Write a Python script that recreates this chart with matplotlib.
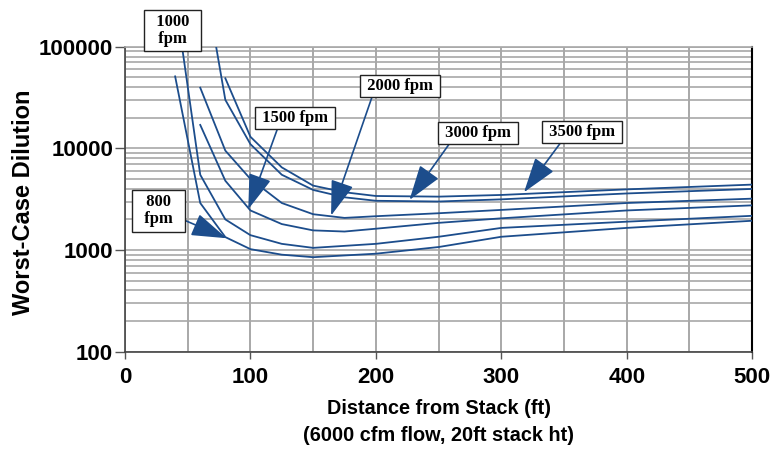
import numpy as np
import matplotlib
matplotlib.use("Agg")
import matplotlib.pyplot as plt
from matplotlib.ticker import MultipleLocator, LogLocator, FixedLocator, NullFormatter

# curve data (distance ft, worst-case dilution)
x_800 = [40, 60, 80, 100, 125, 150, 200, 250, 300, 400, 500]
d_800 = [51000, 2900, 1340, 1020, 900, 850, 920, 1070, 1350, 1650, 1940]

x_1000 = [40, 60, 80, 100, 125, 150, 200, 250, 300, 400, 500]
d_1000 = [300000, 5500, 2000, 1400, 1150, 1050, 1150, 1350, 1650, 1900, 2170]

x_1500 = [60, 80, 100, 125, 150, 175, 200, 250, 300, 400, 500]
d_1500 = [17000, 4800, 2450, 1800, 1560, 1520, 1620, 1850, 2050, 2450, 2750]

x_2000 = [60, 80, 100, 125, 150, 175, 200, 250, 300, 400, 500]
d_2000 = [39500, 9500, 5000, 2900, 2250, 2070, 2150, 2300, 2480, 2900, 3200]

x_3000 = [60, 80, 100, 125, 150, 175, 200, 250, 300, 400, 500]
d_3000 = [800000, 30000, 11000, 5500, 3900, 3300, 3050, 3000, 3150, 3600, 3990]

x_3500 = [80, 100, 125, 150, 175, 200, 250, 300, 400, 500]
d_3500 = [48900, 13000, 6500, 4300, 3700, 3400, 3350, 3480, 3950, 4400]

labels = ["800\nfpm", "1000\nfpm", "1500 fpm", "2000 fpm", "3000 fpm", "3500 fpm"]
xticks = [0, 100, 200, 300, 400, 500]
yticks = [100, 1000, 10000, 100000]

# label boxes and arrow tips (layout)
box_pos = [(26.8, 2430), (37.9, 144000), (135.2, 20100), (219.3, 40900), (281.5, 14200), (364.3, 14500)]
tips = [(81, 1306), None, (98.3, 2520), (164.3, 2180), (226.8, 3110), (318.1, 3700)]
rel = [(1, 0.26), None, (0.285, 0), (0.134, 0), (0.14, 0), (0.24, 0)]

navy = "#1c4d8c"
grid_c = "#a8a8a8"

fig = plt.figure(figsize=(7.84, 4.51), dpi=100)
ax = fig.add_axes([0.1594, 0.2202, 0.8, 0.6763])

for xs, ds in [(x_800, d_800), (x_1000, d_1000), (x_1500, d_1500),
               (x_2000, d_2000), (x_3000, d_3000), (x_3500, d_3500)]:
    ax.plot(xs, ds, color=navy, lw=1.3, zorder=3)

ax.set_yscale("log")
ax.set_xlim(0, 500)
ax.set_ylim(100, 100000)

ax.xaxis.set_major_locator(FixedLocator(xticks))
ax.xaxis.set_minor_locator(MultipleLocator(50))
ax.yaxis.set_major_locator(FixedLocator(yticks))
ax.yaxis.set_minor_locator(LogLocator(base=10, subs=np.arange(2, 10)))
ax.yaxis.set_minor_formatter(NullFormatter())
ax.set_yticklabels([str(v) for v in yticks])
ax.set_xticklabels([str(v) for v in xticks])

ax.grid(which="major", axis="y", color=grid_c, lw=1.2)
ax.grid(which="minor", axis="y", color=grid_c, lw=1.2)
ax.grid(which="minor", axis="x", color="#9a9a9a", lw=1.2)
ax.grid(which="major", axis="x", color="#9a9a9a", lw=1.2)
ax.set_axisbelow(True)

for t in ax.get_xticklabels() + ax.get_yticklabels():
    t.set_fontfamily("Liberation Sans")
    t.set_fontweight("bold")
    t.set_fontsize(16)
ax.tick_params(axis="y", which="major", length=7, width=1, pad=1.5, color="#555555")
ax.tick_params(axis="x", which="major", length=5, width=1, pad=6, color="#555555")
ax.tick_params(which="minor", length=0)

for s in ["left", "bottom"]:
    ax.spines[s].set_color("#444444")
    ax.spines[s].set_linewidth(1.2)
ax.spines["right"].set_color("black")
ax.spines["right"].set_linewidth(1.5)
ax.spines["top"].set_color(grid_c)
ax.spines["top"].set_linewidth(1.2)

ax.set_ylabel("Worst-Case Dilution", fontfamily="Liberation Sans", fontweight="bold", fontsize=17)
ax.yaxis.set_label_coords(-0.143, 0.49)
ax.set_xlabel("Distance from Stack (ft)\n(6000 cfm flow, 20ft stack ht)",
              fontfamily="Liberation Sans", fontweight="bold", fontsize=14.3, linespacing=1.55)
ax.xaxis.set_label_coords(0.5, -0.155)

box_font = dict(family="Liberation Serif", weight="bold", size=12)
for lab, pos, tip, rp in zip(labels, box_pos, tips, rel):
    if "\n" in lab:
        txt = "\n".join("  " + s + "  " for s in lab.split("\n"))
        bb = dict(boxstyle="square,pad=0.25", fc="white", ec="#222222", lw=1)
    else:
        txt = " " + lab + " "
        bb = dict(boxstyle="square,pad=0.18", fc="white", ec="#222222", lw=1)
    if tip is None:
        ax.annotate(txt, xy=pos, xytext=pos, ha="center", va="center", **box_font,
                    linespacing=1.1, bbox=bb, annotation_clip=False, zorder=5)
    else:
        ax.annotate(txt, xy=tip, xytext=pos, ha="center", va="center", **box_font,
                    linespacing=1.1, bbox=bb, annotation_clip=False, zorder=5,
                    arrowprops=dict(arrowstyle="-|>,head_length=1.1,head_width=0.36",
                                    mutation_scale=20, color=navy, lw=1.2,
                                    shrinkA=0, shrinkB=0, relpos=rp))

fig.savefig("out.png", dpi=100)
